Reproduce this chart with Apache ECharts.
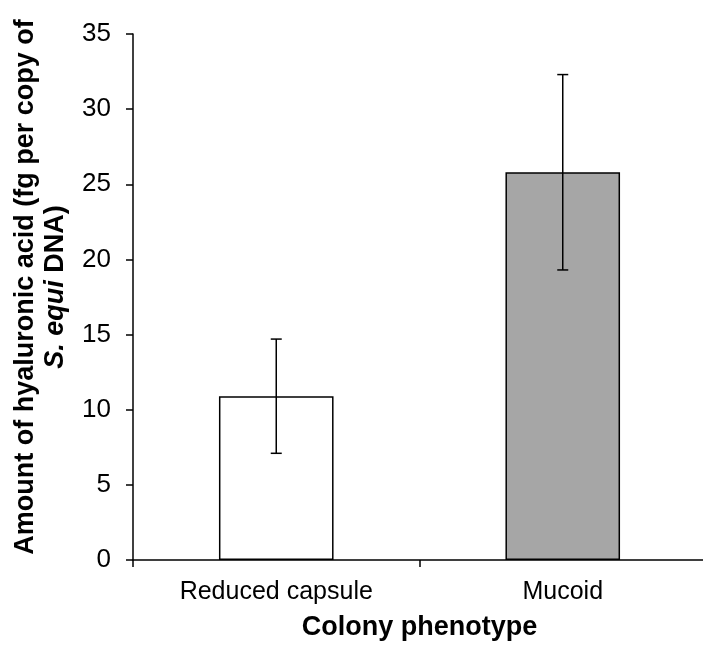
<!DOCTYPE html>
<html>
<head>
<meta charset="utf-8">
<script src="https://cdn.jsdelivr.net/npm/echarts@6/dist/echarts.min.js"></script>
<style>
html, body { margin: 0; padding: 0; background: #fff; overflow: hidden; }
#chart { width: 706px; height: 646px; }
</style>
</head>
<body>
<div id="chart"></div>
<script>
// 数据
var categories = ['Reduced capsule', 'Mucoid'];
var means = [10.9, 25.8];
var errLow = [7.1, 19.3];
var errHigh = [14.7, 32.3];
var barColors = ['#ffffff', '#a6a6a6'];

var yTicks = { min: 0, max: 35, interval: 5 };

var chart = echarts.init(document.getElementById('chart'));

var errData = categories.map(function (c, i) {
    return [i, errLow[i], errHigh[i]];
});

chart.setOption({
    animation: false,
    grid: { left: 133, top: 34, bottom: 85, right: 0 },
    textStyle: { fontFamily: 'Liberation Sans, Arial, sans-serif' },
    xAxis: {
        type: 'category',
        data: categories,
        name: 'Colony phenotype',
        nameLocation: 'middle',
        nameGap: 54,
        nameTextStyle: { fontSize: 27, fontWeight: 'bold', color: '#000' },
        axisLine: { lineStyle: { color: '#000', width: 1.5 } },
        axisTick: { show: true, length: 7, lineStyle: { color: '#000', width: 1.5 } },
        axisLabel: { fontSize: 25, color: '#000', margin: 20 }
    },
    yAxis: {
        type: 'value',
        min: yTicks.min,
        max: yTicks.max,
        interval: yTicks.interval,
        name: '{b|Amount of hyaluronic acid (fg per copy of}\n{i|S. equi}{b| DNA)}',
        nameLocation: 'middle',
        nameGap: 62,
        nameRotate: 90,
        nameTextStyle: {
            fontSize: 27, fontWeight: 700, color: '#000', lineHeight: 30,
            padding: [0, 0, 0, 20],
            rich: {
                b: { fontSize: 27, fontWeight: 700, color: '#000', lineHeight: 30 },
                i: { fontSize: 27, fontWeight: 700, fontStyle: 'italic', color: '#000', lineHeight: 30 }
            }
        },
        splitLine: { show: false },
        axisLine: { show: true, lineStyle: { color: '#000', width: 1.5 } },
        axisTick: { show: true, length: 7, lineStyle: { color: '#000', width: 1.5 } },
        axisLabel: { fontSize: 26, color: '#000', margin: 22 }
    },
    series: [
        {
            type: 'bar',
            barWidth: '40%',
            data: means.map(function (v, i) {
                return { value: v, itemStyle: { color: barColors[i] } };
            }),
            itemStyle: { borderColor: '#000', borderWidth: 1.5 }
        },
        {
            type: 'custom',
            data: errData,
            z: 10,
            renderItem: function (params, api) {
                var x = api.value(0);
                var lo = api.coord([x, api.value(1)]);
                var hi = api.coord([x, api.value(2)]);
                var w = 5.5;
                var st = { stroke: '#000', lineWidth: 1.5 };
                return {
                    type: 'group',
                    children: [
                        { type: 'line', shape: { x1: lo[0], y1: lo[1], x2: hi[0], y2: hi[1] }, style: st },
                        { type: 'line', shape: { x1: lo[0] - w, y1: lo[1], x2: lo[0] + w, y2: lo[1] }, style: st },
                        { type: 'line', shape: { x1: hi[0] - w, y1: hi[1], x2: hi[0] + w, y2: hi[1] }, style: st }
                    ]
                };
            }
        }
    ]
});
</script>
</body>
</html>
